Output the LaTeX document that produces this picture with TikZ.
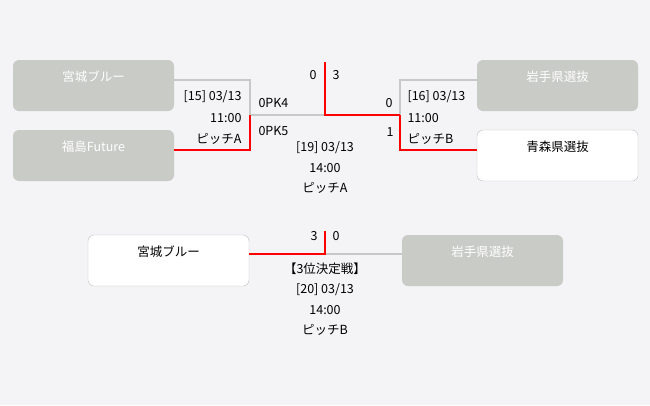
\documentclass[tikz,border=0pt]{standalone}
\usepackage{fontspec}
\setmainfont{Noto Sans CJK JP}
\definecolor{PageBg}{HTML}{F4F3F6}
\definecolor{LoserFill}{HTML}{C9CBC7}
\definecolor{LineGray}{HTML}{C8C8C8}
\definecolor{BoxEdge}{HTML}{BEBEBE}
\begin{document}
\begin{tikzpicture}[x=1pt,y=-1pt,font=\fontsize{12.5}{14}\selectfont,
    teambox/.style={rounded corners=6pt, minimum width=161pt, minimum height=51pt, inner sep=0pt, outer sep=0pt, anchor=north west},
    loser/.style={teambox, fill=LoserFill},
    winner/.style={teambox, fill=white, draw=BoxEdge, thin},
    namelose/.style={text=white},
    namewin/.style={text=black},
    win/.style={line width=2pt, red},
    lose/.style={line width=2pt, LineGray}]
    \fill[PageBg] (0,0) rectangle (650,405);% page
    \useasboundingbox (0,0) rectangle (650,405);
    % team boxes
    \node[loser]  (BoxMiyagi)     at (13,60)  {};
    \node[loser]  (BoxFukushima)  at (13,130) {};
    \node[loser]  (BoxIwate)      at (477,60) {};
    \node[winner] (BoxAomori)     at (477,130) {};
    \node[winner] (BoxMiyagiBr)   at (88,235) {};
    \node[loser]  (BoxIwateBr)    at (402,235) {};
    \node[namelose] (NameMiyagi)    at ([yshift=-17pt]BoxMiyagi.north)    {宮城ブルー};
    \node[namelose] (NameFukushima) at ([yshift=-17pt]BoxFukushima.north) {福島Future};
    \node[namelose] (NameIwate)     at ([yshift=-17pt]BoxIwate.north)     {岩手県選抜};
    \node[namewin]  (NameAomori)    at ([yshift=-17pt]BoxAomori.north)    {青森県選抜};
    \node[namewin]  (NameMiyagiBr)  at ([yshift=-17pt]BoxMiyagiBr.north)  {宮城ブルー};
    \node[namelose] (NameIwateBr)   at ([yshift=-17pt]BoxIwateBr.north)   {岩手県選抜};
    % joints
    \coordinate (JoinA)     at (250,115);
    \coordinate (JoinFinal) at (325,115);
    \coordinate (JoinB)     at (400,115);
    \coordinate (FinalTop)  at (325,62);
    \coordinate (JoinThird) at (325,254);
    \coordinate (ThirdTop)  at (325,231);
    % bracket lines
    \draw[lose] ([yshift=6pt]BoxMiyagi.east) -| (JoinA);
    \draw[lose] (JoinA) -- (JoinFinal);
    \draw[lose] ([yshift=6pt]BoxIwate.west) -| (JoinB);
    \draw[lose] (JoinThird) -- (JoinThird -| BoxIwateBr.west);
    \draw[win] ([yshift=6pt]BoxFukushima.east) -| (JoinA);
    \draw[win] ([yshift=6pt]BoxAomori.west) -| (JoinB);
    \draw[win] (JoinB) -- (JoinFinal) -- (FinalTop);
    \draw[win] (JoinThird -| BoxMiyagiBr.east) -- (JoinThird) -- (ThirdTop);
    % scores
    \node (ScoreFinalL) at (313,75) {0};
    \node (ScoreFinalR) at (336,75) {3};
    \node[anchor=west] (ScoreSemiA1) at (255,103) {0PK4};
    \node[anchor=west] (ScoreSemiA2) at (255,131) {0PK5};
    \node (ScoreSemiB1) at (389,103) {0};
    \node (ScoreSemiB2) at (390,132) {1};
    \node (ScoreThirdL) at (314,236) {3};
    \node (ScoreThirdR) at (336,236) {0};
    % match info
    \node[anchor=east] (InfoA1) at (245,97)  {[15] 03/13};
    \node[anchor=east] (InfoA2) at (245,118) {11:00};
    \node[anchor=east] (InfoA3) at (245,139) {ピッチA};
    \node[anchor=west] (InfoB1) at (404,97)  {[16] 03/13};
    \node[anchor=west] (InfoB2) at (404,118) {11:00};
    \node[anchor=west] (InfoB3) at (404,139) {ピッチB};
    \node (InfoF1) at (325,148) {[19] 03/13};
    \node (InfoF2) at (325,168) {14:00};
    \node (InfoF3) at (325,188) {ピッチA};
    \node (InfoT0) at (325,269) {【3位決定戦】};
    \node (InfoT1) at (325,290) {[20] 03/13};
    \node (InfoT2) at (325,310) {14:00};
    \node (InfoT3) at (325,330) {ピッチB};
\end{tikzpicture}
\end{document}
